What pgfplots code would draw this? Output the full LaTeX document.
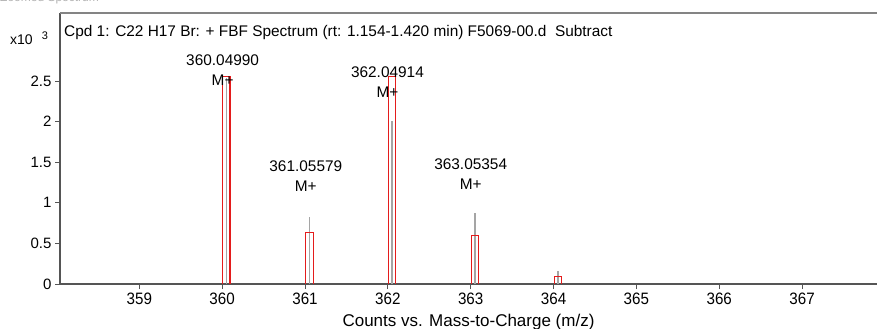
\documentclass[border=0pt]{standalone}
\usepackage{pgfplots}
\pgfplotsset{compat=1.18}
\usepackage{fontspec}
\setmainfont{Liberation Sans}
\definecolor{pkred}{RGB}{228,28,28}
\definecolor{stick}{RGB}{165,165,165}
\definecolor{axgray}{RGB}{85,85,85}
\begin{document}
\begin{tikzpicture}
\begin{axis}[
  scale only axis,
  width=817bp, height=271bp,
  xmin=358.043, xmax=367.904,
  ymin=0, ymax=3.337,
  axis x line*=bottom, axis y line*=left,
  axis line style={axgray, line width=1.6bp},
  every outer x axis line/.append style={-},
  every outer y axis line/.append style={-},
  tick align=outside,
  major tick length=5bp,
  tick style={axgray, line width=0.8bp},
  xtick={359,360,361,362,363,364,365,366,367},
  xticklabels={359,360,361,362,363,364,365,366,367},
  ytick={0,0.5,1,1.5,2,2.5},
  yticklabels={0,0.5,1,1.5,2,2.5},
  xticklabel style={font=\fontsize{16.5bp}{16.5bp}\selectfont, xscale=0.92},
  yticklabel style={font=\fontsize{15bp}{15bp}\selectfont},
  xlabel={Counts vs. Mass-to-Charge (m/z)},
  xlabel style={font=\fontsize{17bp}{17bp}\selectfont, at={(rel axis cs:0.5,0)}, anchor=base, yshift=-42bp},
  clip=false,
]
% gray profile sticks
\addplot[ycomb, stick, line width=1.5bp, no marks] coordinates {
  (360.0499,2.54) (361.0558,0.83) (362.0491,2.01) (363.0535,0.87) (364.0560,0.16)
};
% red isotope boxes (width 0.09 m/z)
\addplot[pkred, line width=1.1bp, no marks] coordinates {(360.0049,0) (360.0049,2.56) (360.0949,2.56) (360.0949,0)};
\addplot[pkred, line width=1.1bp, no marks] coordinates {(361.0108,0) (361.0108,0.63) (361.1008,0.63) (361.1008,0)};
\addplot[pkred, line width=1.1bp, no marks] coordinates {(362.0041,0) (362.0041,2.56) (362.0941,2.56) (362.0941,0)};
\addplot[pkred, line width=1.1bp, no marks] coordinates {(363.0085,0) (363.0085,0.60) (363.0985,0.60) (363.0985,0)};
\addplot[pkred, line width=1.1bp, no marks] coordinates {(364.0110,0) (364.0110,0.09) (364.1010,0.09) (364.1010,0)};
\draw[stick!80!black, line width=1.4bp] (rel axis cs:0,1) -- (rel axis cs:1,1);
\begin{scope}[every node/.style={align=center, font=\fontsize{15.4bp}{20bp}\selectfont, inner sep=0pt}]
\node at (axis cs:360.006,2.63) {360.04990\\M+};
\node at (axis cs:361.010,1.33) {361.05579\\M+};
\node at (axis cs:361.995,2.49) {362.04914\\M+};
\node at (axis cs:363.000,1.35) {363.05354\\M+};
\end{scope}
\end{axis}
\node[anchor=base west, inner sep=0pt, font=\fontsize{15.4bp}{18bp}\selectfont] at ([xshift=4bp,yshift=-23.7bp]current axis.north west) {Cpd 1: C22 H17 Br: + FBF Spectrum (rt: 1.154-1.420 min) F5069-00.d\ \ Subtract};
\node[anchor=base west, inner sep=0pt, font=\fontsize{14bp}{14bp}\selectfont] at ([xshift=-50bp,yshift=-32bp]current axis.north west) {x10\hspace{9bp}\raisebox{5bp}{\fontsize{11bp}{11bp}\selectfont 3}};
\node[anchor=base west, inner sep=0pt, text=black!30, font=\fontsize{12bp}{12bp}\selectfont] at ([xshift=-60bp,yshift=11bp]current axis.north west) {Zoomed Spectrum};
\pgfresetboundingbox
\path[use as bounding box] ([xshift=-60bp,yshift=-45bp]current axis.south west) rectangle ([yshift=13bp]current axis.north east);
\end{tikzpicture}
\end{document}
